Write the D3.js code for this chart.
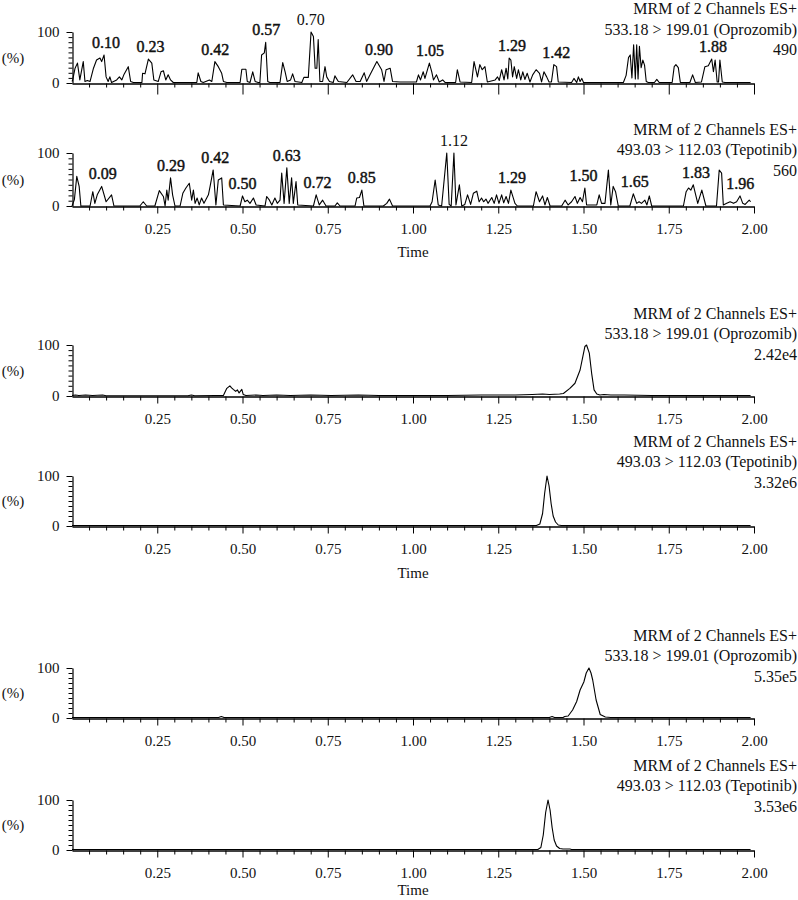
<!DOCTYPE html>
<html>
<head>
<meta charset="utf-8">
<script src="https://cdn.jsdelivr.net/npm/d3@7"></script>
<style>
  html, body { margin: 0; padding: 0; background: #fff; }
  svg { display: block; font-family: "Liberation Serif", "Times New Roman", serif; }
</style>
</head>
<body>
<svg id="chart" width="798" height="900"></svg>
<script>
// ---------------- data ----------------
const channelHeader = "MRM of 2 Channels ES+";
const channelOpro = "533.18 > 199.01 (Oprozomib)";
const channelTepo = "493.03 > 112.03 (Tepotinib)";
const intensities = ["490", "560", "2.42e4", "3.32e6", "5.35e5", "3.53e6"];
const majorTicks = [0.25, 0.50, 0.75, 1.00, 1.25, 1.50, 1.75, 2.00];
const tickLabels = ["0.25", "0.50", "0.75", "1.00", "1.25", "1.50", "1.75", "2.00"];
const minorTicks = d3.range(1, 40).map(i => i * 0.05).filter(t => Math.abs(t / 0.25 - Math.round(t / 0.25)) > 1e-6);
const yTicks = [0, 100];
const yTickLabels = ["0", "100"];
const yMinor = [10, 20, 30, 40, 50, 60, 70, 80, 90];

// blank plasma, Oprozomib channel  [time, %]
const blankOpro = [[0.000,3],[0.002,6],[0.009,29],[0.016,39],[0.023,6],[0.033,42],[0.038,3],[0.045,5],[0.053,3],[0.063,29],[0.072,45],[0.082,49],[0.087,42],[0.094,55],[0.100,12],[0.106,3],[0.111,12],[0.116,1],[0.131,6],[0.139,12],[0.146,6],[0.152,16],[0.165,32],[0.172,3],[0.180,1],[0.205,1],[0.207,19],[0.214,18],[0.224,47],[0.234,39],[0.240,6],[0.253,3],[0.261,22],[0.268,24],[0.275,6],[0.282,16],[0.289,6],[0.297,1],[0.366,1],[0.370,20],[0.378,3],[0.385,1],[0.403,6],[0.410,3],[0.419,42],[0.429,32],[0.439,19],[0.444,3],[0.454,1],[0.493,1],[0.498,27],[0.510,27],[0.514,3],[0.522,1],[0.530,22],[0.537,3],[0.546,1],[0.551,1],[0.556,55],[0.564,59],[0.568,80],[0.574,3],[0.580,1],[0.610,1],[0.618,40],[0.625,22],[0.631,3],[0.641,6],[0.647,18],[0.654,3],[0.674,1],[0.680,11],[0.693,11],[0.701,100],[0.708,91],[0.713,29],[0.718,29],[0.722,85],[0.727,3],[0.735,3],[0.742,32],[0.747,12],[0.755,3],[0.766,1],[0.771,14],[0.781,3],[0.806,1],[0.823,16],[0.833,3],[0.845,3],[0.857,20],[0.864,3],[0.874,16],[0.894,42],[0.908,26],[0.915,3],[0.921,26],[0.933,29],[0.940,3],[0.962,2],[1.010,2],[1.016,16],[1.022,6],[1.030,22],[1.035,9],[1.048,39],[1.055,22],[1.060,6],[1.069,16],[1.077,2],[1.087,6],[1.094,1],[1.125,1],[1.130,26],[1.138,2],[1.172,1],[1.179,42],[1.189,12],[1.196,36],[1.203,26],[1.211,32],[1.218,2],[1.241,6],[1.248,12],[1.253,5],[1.260,26],[1.267,6],[1.273,29],[1.278,8],[1.282,49],[1.287,45],[1.292,12],[1.297,32],[1.304,9],[1.309,26],[1.316,6],[1.322,22],[1.328,7],[1.335,19],[1.343,2],[1.351,16],[1.361,26],[1.371,19],[1.377,2],[1.384,22],[1.392,12],[1.399,2],[1.406,2],[1.413,36],[1.421,32],[1.426,2],[1.465,1],[1.472,9],[1.480,1],[1.485,12],[1.490,3],[1.495,9],[1.500,1],[1.617,1],[1.625,15],[1.632,50],[1.637,55],[1.642,10],[1.647,75],[1.652,8],[1.656,75],[1.660,8],[1.664,72],[1.669,30],[1.674,45],[1.679,35],[1.684,3],[1.690,1],[1.708,1],[1.715,7],[1.722,1],[1.760,1],[1.766,32],[1.771,36],[1.778,30],[1.784,1],[1.812,1],[1.820,16],[1.828,1],[1.846,2],[1.856,32],[1.866,34],[1.876,47],[1.881,22],[1.886,45],[1.892,2],[1.896,2],[1.900,45],[1.907,2],[1.915,1],[1.990,1]];
const blankOproLabels = [[0.10,55],[0.23,47],[0.42,42],[0.57,80],[0.70,100],[0.90,42],[1.05,39],[1.29,49],[1.42,36],[1.88,47]];

// blank plasma, Tepotinib channel
const blankTepo = [[0.000,0],[0.007,12],[0.014,56],[0.021,37],[0.026,0],[0.053,0],[0.061,27],[0.067,5],[0.074,21],[0.087,37],[0.100,8],[0.116,21],[0.123,0],[0.199,0],[0.209,8],[0.219,0],[0.243,0],[0.256,29],[0.268,18],[0.273,0],[0.278,30],[0.282,11],[0.289,53],[0.295,21],[0.302,0],[0.317,0],[0.325,24],[0.334,34],[0.344,43],[0.351,11],[0.356,30],[0.361,5],[0.367,15],[0.373,2],[0.380,15],[0.387,5],[0.400,21],[0.405,37],[0.414,68],[0.422,2],[0.429,49],[0.439,53],[0.444,2],[0.493,0],[0.500,19],[0.507,8],[0.514,11],[0.522,5],[0.532,15],[0.540,2],[0.566,0],[0.571,18],[0.579,11],[0.586,2],[0.595,15],[0.602,5],[0.610,11],[0.615,62],[0.622,5],[0.630,72],[0.637,5],[0.644,53],[0.649,5],[0.657,46],[0.662,2],[0.708,0],[0.716,21],[0.725,2],[0.735,11],[0.745,0],[0.771,0],[0.778,6],[0.786,0],[0.830,0],[0.835,15],[0.843,16],[0.850,30],[0.856,0],[0.913,0],[0.923,5],[0.931,13],[0.940,0],[1.050,0],[1.056,8],[1.065,49],[1.074,2],[1.084,0],[1.099,100],[1.106,3],[1.112,0],[1.120,100],[1.126,2],[1.136,40],[1.143,0],[1.152,3],[1.160,21],[1.169,3],[1.177,24],[1.187,28],[1.194,8],[1.201,15],[1.207,8],[1.214,13],[1.220,5],[1.231,16],[1.238,5],[1.245,21],[1.252,5],[1.260,21],[1.266,6],[1.273,18],[1.280,5],[1.287,30],[1.299,5],[1.306,0],[1.353,0],[1.361,27],[1.371,8],[1.380,19],[1.387,2],[1.394,16],[1.402,0],[1.436,0],[1.446,11],[1.455,2],[1.465,8],[1.475,18],[1.482,5],[1.490,16],[1.497,8],[1.504,34],[1.509,2],[1.539,2],[1.546,21],[1.553,5],[1.563,5],[1.573,68],[1.580,2],[1.587,37],[1.594,27],[1.602,0],[1.636,0],[1.646,23],[1.656,5],[1.663,8],[1.670,5],[1.680,11],[1.686,2],[1.693,19],[1.700,0],[1.793,0],[1.801,27],[1.808,34],[1.815,30],[1.822,40],[1.829,21],[1.835,5],[1.847,30],[1.859,0],[1.890,0],[1.898,68],[1.905,62],[1.910,2],[1.920,5],[1.930,8],[1.940,5],[1.949,8],[1.959,19],[1.967,5],[1.974,3],[1.986,11],[1.990,8]];
const blankTepoLabels = [[0.09,37],[0.29,53],[0.42,68],[0.50,19],[0.63,72],[0.72,21],[0.85,30],[1.12,100],[1.29,30],[1.50,34],[1.65,23],[1.83,40],[1.96,19]];

// sample 1 (LLOQ-level Oprozomib + IS)
const sampleOpro = [[0.000,1],[0.010,2],[0.020,1],[0.040,2],[0.060,1],[0.090,2],[0.100,0.5],[0.340,0.5],[0.350,2],[0.360,0.5],[0.420,1],[0.444,1],[0.454,15],[0.463,20],[0.468,16],[0.473,13],[0.480,9],[0.485,12],[0.490,6],[0.498,13],[0.502,3],[0.510,1],[0.540,2],[0.560,1],[0.600,2],[0.640,1],[0.700,2],[0.760,1],[0.840,2],[0.900,1],[1.100,1],[1.200,2],[1.300,2],[1.350,3],[1.380,4],[1.400,3],[1.430,4],[1.441,5],[1.460,15],[1.475,25],[1.490,51],[1.498,77],[1.504,97],[1.509,100],[1.517,84],[1.524,44],[1.531,12],[1.539,4],[1.548,2],[1.560,3],[1.580,2],[1.620,2],[1.700,1],[1.800,1],[1.900,1],[1.990,1]];
const sampleTepo = [[0.000,1],[0.500,1],[1.000,1],[1.362,1],[1.372,4],[1.380,25],[1.386,65],[1.393,100],[1.399,80],[1.405,45],[1.411,20],[1.418,8],[1.426,2],[1.435,1],[1.990,1]];

// sample 2 (higher-level Oprozomib + IS)
const spikedOpro = [[0.000,1],[0.430,1],[0.438,3],[0.446,1],[1.400,1],[1.408,3],[1.415,1],[1.440,1],[1.445,3],[1.455,4],[1.468,16],[1.480,33],[1.490,56],[1.501,72],[1.508,90],[1.516,100],[1.522,90],[1.527,76],[1.537,36],[1.549,7],[1.564,2],[1.580,1],[1.990,1]];
const spikedTepo = [[0.000,1],[1.366,1],[1.375,5],[1.382,30],[1.389,75],[1.396,100],[1.402,80],[1.408,45],[1.414,20],[1.421,8],[1.430,3],[1.440,2],[1.460,2],[1.465,1],[1.990,1]];

// ---------------- layout ----------------
const svg = d3.select("#chart");
const x = d3.scaleLinear().domain([0, 2]).range([72, 754]);

const panels = [
  { trace: blankOpro, labels: blankOproLabels, channel: channelOpro, intensity: intensities[0], base: 83,  top: 32,  titleY: 14,    tickLabels: false, time: false, timeDy: 0,  majorLen: 11 },
  { trace: blankTepo, labels: blankTepoLabels, channel: channelTepo, intensity: intensities[1], base: 206, top: 153, titleY: 134.5, tickLabels: true,  time: true,  timeDy: 51, majorLen: 7 },
  { trace: sampleOpro, labels: [], channel: channelOpro, intensity: intensities[2], base: 396, top: 345, titleY: 318.5, tickLabels: true, time: false, timeDy: 0,  majorLen: 7 },
  { trace: sampleTepo, labels: [], channel: channelTepo, intensity: intensities[3], base: 526, top: 476, titleY: 446.5, tickLabels: true, time: true,  timeDy: 52, majorLen: 7 },
  { trace: spikedOpro, labels: [], channel: channelOpro, intensity: intensities[4], base: 718, top: 668, titleY: 640.5, tickLabels: true, time: false, timeDy: 0,  majorLen: 7 },
  { trace: spikedTepo, labels: [], channel: channelTepo, intensity: intensities[5], base: 850, top: 800, titleY: 770.5, tickLabels: true, time: true,  timeDy: 45, majorLen: 7 }
];

panels.forEach(p => {
  const y = d3.scaleLinear().domain([0, 100]).range([p.base, p.top]);
  const g = svg.append("g");

  // y axis
  const yMinorAxis = d3.axisLeft(y).tickValues(yMinor).tickSize(4).tickSizeOuter(0).tickFormat("");
  const yMajorAxis = d3.axisLeft(y).tickValues(yTicks).tickSize(6).tickSizeOuter(0).tickPadding(7)
    .tickFormat((d, i) => yTickLabels[i]);
  const gy1 = g.append("g").attr("transform", "translate(72.5,0)").call(yMinorAxis);
  const gy2 = g.append("g").attr("transform", "translate(72.5,0)").call(yMajorAxis);
  [gy1, gy2].forEach(a => {
    a.select(".domain").attr("stroke", "#000").attr("stroke-width", 1.2);
    a.selectAll(".tick line").attr("stroke", "#000").attr("stroke-width", 1);
    a.selectAll("text").attr("fill", "#111").style("font-size", "15px").style("font-family", "Liberation Serif");
  });
  gy1.select(".domain").remove();

  g.append("text").attr("x", 13).attr("y", (p.base + p.top) / 2 + 5)
    .attr("text-anchor", "middle").style("font-size", "15px").attr("fill", "#111").text("(%)");

  // x axis
  const xMinorAxis = d3.axisBottom(x).tickValues(minorTicks).tickSize(4).tickSizeOuter(0).tickFormat("");
  const xMajorAxis = d3.axisBottom(x).tickValues(majorTicks).tickSize(p.majorLen).tickSizeOuter(0).tickPadding(10)
    .tickFormat((d, i) => p.tickLabels ? tickLabels[i] : "");
  const gx1 = g.append("g").attr("transform", `translate(0,${p.base + 0.5})`).call(xMinorAxis);
  const gx2 = g.append("g").attr("transform", `translate(0,${p.base + 0.5})`).call(xMajorAxis);
  [gx1, gx2].forEach(a => {
    a.select(".domain").attr("stroke", "#000").attr("stroke-width", 1.4);
    a.selectAll(".tick line").attr("stroke", "#000").attr("stroke-width", 1);
    a.selectAll("text").attr("fill", "#111").style("font-size", "15px").style("font-family", "Liberation Serif");
  });
  gx1.select(".domain").remove();

  if (p.time) {
    g.append("text").attr("x", x(1)).attr("y", p.base + p.timeDy).attr("text-anchor", "middle")
      .style("font-size", "15px").attr("fill", "#111").text("Time");
  }

  // trace
  const line = d3.line().x(d => x(d[0])).y(d => y(d[1]));
  g.append("path").datum(p.trace).attr("d", line)
    .attr("fill", "none").attr("stroke", "#000").attr("stroke-width", 1.1).attr("stroke-linejoin", "round");

  // peak labels (largest peak in normal weight, others semi-bold)
  const maxV = d3.max(p.labels, d => d[1]);
  g.selectAll("text.peak").data(p.labels).join("text").attr("class", "peak")
    .attr("x", d => x(d[0])).attr("y", d => y(d[1]) - 7)
    .attr("text-anchor", "middle").style("font-size", "16px")
    .attr("fill", "#111")
    .attr("stroke", d => d[1] === maxV ? "none" : "#111")
    .attr("stroke-width", 0.45)
    .text(d => d3.format(".2f")(d[0]));

  // header text
  const lines = [channelHeader, p.channel, p.intensity];
  g.selectAll("text.hdr").data(lines).join("text").attr("class", "hdr")
    .attr("x", 797).attr("y", (d, i) => p.titleY + i * 20.5)
    .attr("text-anchor", "end").style("font-size", "16px").attr("fill", "#111").text(d => d);
});
</script>
</body>
</html>
